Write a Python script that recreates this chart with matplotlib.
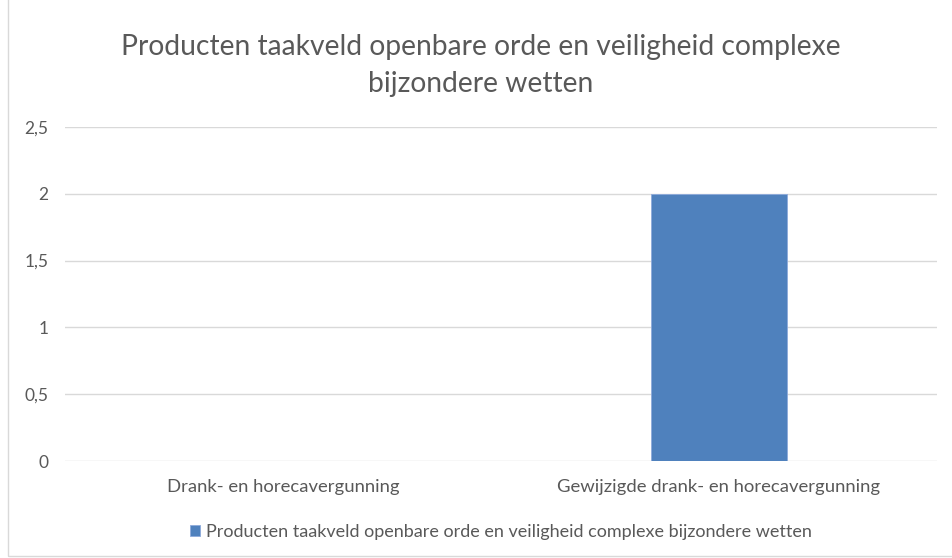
import matplotlib.pyplot as plt
from matplotlib.patches import Rectangle

categories = ["Drank- en horecavergunning", "Gewijzigde drank- en horecavergunning"]
values = [0, 2]
series_name = "Producten taakveld openbare orde en veiligheid complexe bijzondere wetten"
title = "Producten taakveld openbare orde en veiligheid complexe\nbijzondere wetten"
yticks = [0, 0.5, 1, 1.5, 2, 2.5]
ytick_labels = ["0", "0,5", "1", "1,5", "2", "2,5"]

TEXT = "#595959"
GRID = "#d9d9d9"
BAR = "#4f81bd"

plt.rcParams["font.family"] = ["Lato", "DejaVu Sans"]

fig = plt.figure(figsize=(9.52, 5.58), dpi=100)
ax = fig.add_axes([65 / 952, 1 - 461 / 558, 872 / 952, 334 / 558])

x = list(range(len(categories)))
ax.bar(x, values, width=0.31, color=BAR, edgecolor="#8eaadb", linewidth=0.6,
       label=series_name, zorder=3)

ax.set_xlim(-0.5, 1.5)
ax.set_ylim(0, 2.5)
ax.set_yticks(yticks)
ax.set_yticklabels(ytick_labels)
ax.set_xticks(x)
ax.set_xticklabels(categories)
ax.grid(axis="y", color=GRID, linewidth=1, zorder=0)
for s in ax.spines.values():
    s.set_visible(False)
ax.tick_params(axis="both", length=0, colors=TEXT)
ax.tick_params(axis="y", pad=12, labelsize=12.5)
ax.tick_params(axis="x", pad=13, labelsize=13.3)

fig.text(0.505, 1 - 65.5 / 558, title, ha="center", va="center", fontsize=20.3,
         color=TEXT, linespacing=1.55)

ax.legend(loc="upper center", bbox_to_anchor=(0.5, -0.14), frameon=False,
          fontsize=13.0, labelcolor=TEXT, handlelength=0.55, handleheight=0.55,
          handletextpad=0.3)

fig.add_artist(Rectangle((8 / 952, 0.004), 1.2, 1.2, transform=fig.transFigure,
                         fill=False, edgecolor="#d9d9d9", linewidth=1))

fig.savefig("out.png", dpi=100)
